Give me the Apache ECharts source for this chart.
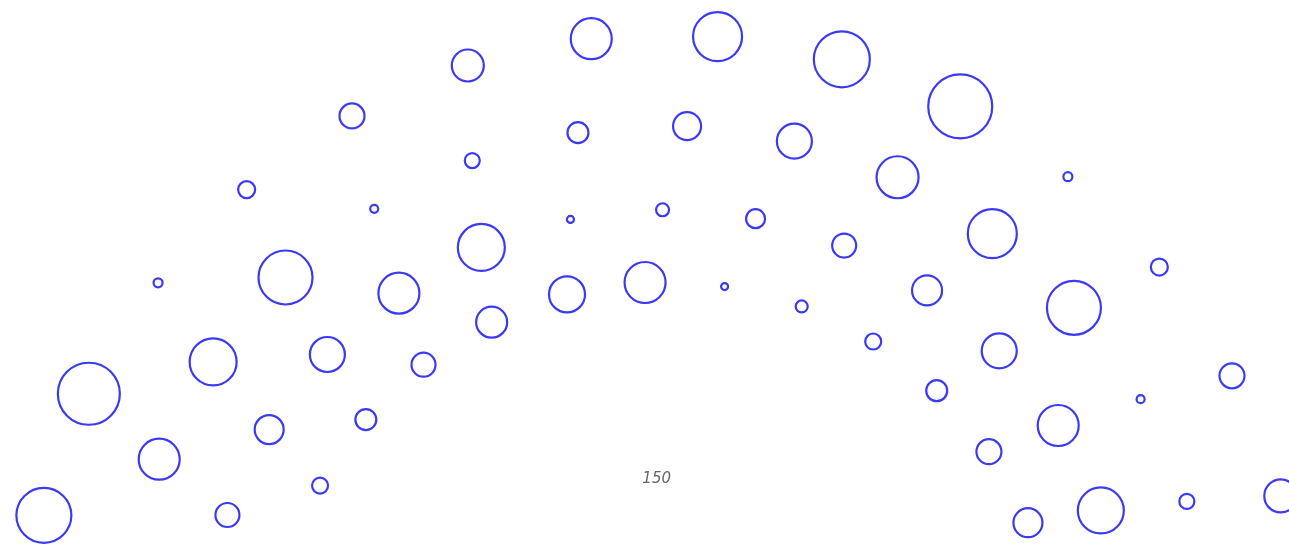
<!DOCTYPE html>
<html>
<head>
<meta charset="utf-8">
<script src="https://cdn.jsdelivr.net/npm/echarts@6/dist/echarts.min.js"></script>
<style>
  html, body { margin: 0; padding: 0; background: #fff; }
  #chart { width: 1289px; height: 544px; }
</style>
</head>
<body>
<div id="chart"></div>
<script>
// ring radius values (radius axis units)
var ringRadius = [488.5, 419, 355, 300];

// angle values, degrees clockwise from top
var ring1Angle = [-75.5, -63.9, -52.2, -40.7, -29.2, -17.9, -6.6, 4.7, 16.0, 27.4, 38.9, 50.4, 62.1, 73.7];
var ring2Angle = [-66.8, -55.2, -43.6, -31.9, -20.5, -9.1, 2.3, 13.6, 25.0, 36.5, 48.0, 59.8, 71.5];
var ring3Angle = [-69.8, -58.1, -46.4, -34.8, -23.2, -11.7, -0.3, 11.2, 22.6, 34.2, 45.8, 57.5, 69.2];
var ring4Angle = [-61.1, -49.4, -37.8, -26.1, -14.4, -2.9, 8.7, 20.3, 31.9, 43.6, 55.3, 67.1];

// bubble sizes
var ring1Size = [55, 62, 9, 17, 25, 32, 41, 49, 56, 64, 9, 17, 25, 33];
var ring2Size = [41, 47, 54, 8, 15, 21, 28, 35, 42, 49, 54, 8, 15];
var ring3Size = [24, 29, 35, 41, 47, 7, 13, 19, 24, 30, 35, 41, 46];
var ring4Size = [16, 21, 24, 31, 36, 41, 7, 12, 16, 21, 25, 29];

var radiusTicks = [0, 150];

function buildData() {
  var angles = [ring1Angle, ring2Angle, ring3Angle, ring4Angle];
  var sizes = [ring1Size, ring2Size, ring3Size, ring4Size];
  var out = [];
  for (var i = 0; i < angles.length; i++) {
    for (var j = 0; j < angles[i].length; j++) {
      out.push([ringRadius[i], angles[i][j], sizes[i][j]]);
    }
  }
  return out;
}

var chart = echarts.init(document.getElementById('chart'));

var option = {
  animation: false,
  polar: {
    center: [665, 676],
    radius: 197
  },
  angleAxis: {
    type: 'value',
    min: 0,
    max: 360,
    startAngle: 90,
    axisLine: { show: false },
    axisTick: { show: false },
    axisLabel: { show: false },
    splitLine: { show: false }
  },
  radiusAxis: {
    type: 'value',
    min: radiusTicks[0],
    max: radiusTicks[1],
    interval: radiusTicks[1] - radiusTicks[0],
    axisLine: { show: false },
    axisTick: { show: false },
    splitLine: { show: false },
    axisLabel: {
      color: '#666',
      fontStyle: 'italic',
      fontSize: 15,
      fontFamily: 'DejaVu Sans',
      margin: -6
    }
  },
  series: [
    {
      type: 'scatter',
      coordinateSystem: 'polar',
      clip: false,
      symbol: 'circle',
      symbolSize: function (v) { return v[2]; },
      itemStyle: {
        color: '#fff',
        borderColor: '#3a3af2',
        borderWidth: 2.2,
        opacity: 1
      },
      data: buildData()
    }
  ]
};

chart.setOption(option);
</script>
</body>
</html>
